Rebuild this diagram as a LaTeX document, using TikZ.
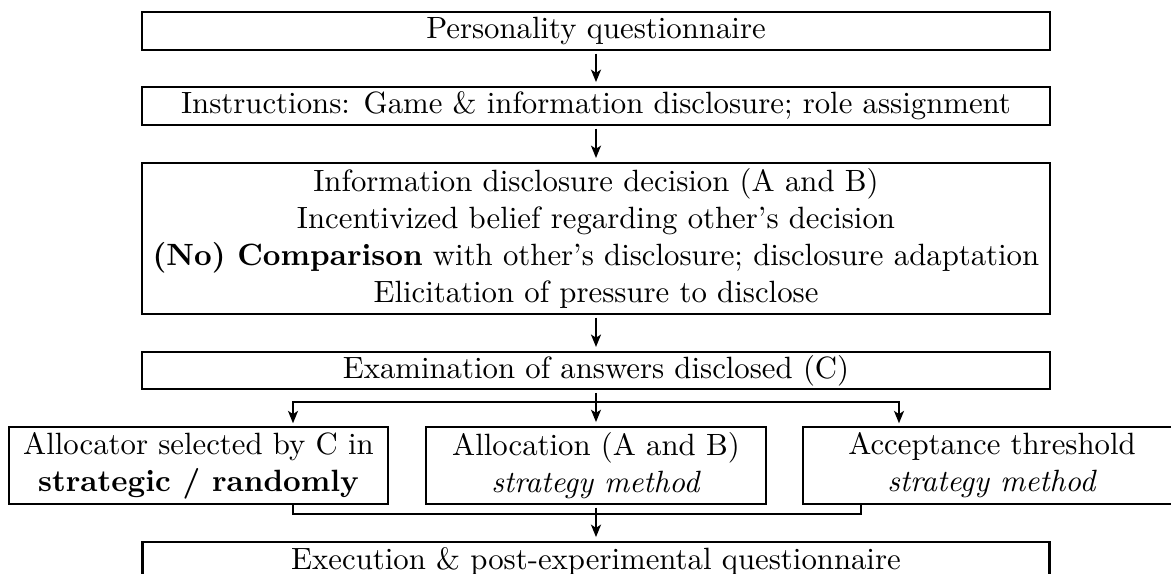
\documentclass[tikz,border=0pt]{standalone}
\usetikzlibrary{arrows.meta,calc}
\begin{document}
\begin{tikzpicture}[x=0.325pt,y=-0.325pt,
  box/.style={draw,thick,inner sep=0pt,align=center,anchor=center},
  arr/.style={thick,-{Stealth[length=4pt,width=3.2pt,inset=1pt]},shorten <=0.8pt,shorten >=1.2pt},
  ln/.style={thick}]
\useasboundingbox (0,0) rectangle (1171,574);
\clip (0,0) rectangle (1171,574);
\node[box,minimum width=295.1pt,minimum height=12.35pt] (b1) at (596,31) {Personality questionnaire};
\node[box,minimum width=295.1pt,minimum height=12.35pt] (b2) at (596,106) {Instructions: Game \& information disclosure; role assignment};
\node[box,minimum width=295.1pt,minimum height=49.1pt] (b3) at (596,238.5) {Information disclosure decision (A and B)\\
Incentivized belief regarding other's decision\\
\textbf{(No) Comparison} with other's disclosure; disclosure adaptation\\
Elicitation of pressure to disclose};
\node[box,minimum width=295.1pt,minimum height=12.1pt] (b4) at (596,370.5) {Examination of answers disclosed (C)};
\node[box,minimum width=123.2pt,minimum height=25.0pt] (lft) at (198.5,465.5) {Allocator selected by C in\\ \textbf{strategic / randomly}};
\node[box,minimum width=110.5pt,minimum height=25.0pt] (mid) at (596,465.5) {Allocation (A and B)\\ \textit{strategy method}};
\node[box,minimum width=122.9pt,minimum height=25.0pt] (rgt) at (992,465.5) {Acceptance threshold\\ \textit{strategy method}};
\node[box,minimum width=294.8pt,minimum height=12.35pt] (b5) at (596,561) {Execution \& post-experimental questionnaire};
\coordinate (split) at (596,402);
\coordinate (la) at (293,427);
\coordinate (ra) at (899,427);
\coordinate (lb) at (293,504);
\coordinate (rb) at (861,504);
\coordinate (join) at (596,514);
\draw[arr] (b1) -- (b2);
\draw[arr] (b2) -- (b3);
\draw[arr] (b3) -- (b4);
\draw[arr] (b4) -- (mid);
\draw[arr,shorten <=0pt] (split) -| (la);
\draw[arr,shorten <=0pt] (split) -| (ra);
\draw[ln] (lb) |- (join) -| (rb);
\draw[arr] (mid) -- (b5);
\end{tikzpicture}
\end{document}
